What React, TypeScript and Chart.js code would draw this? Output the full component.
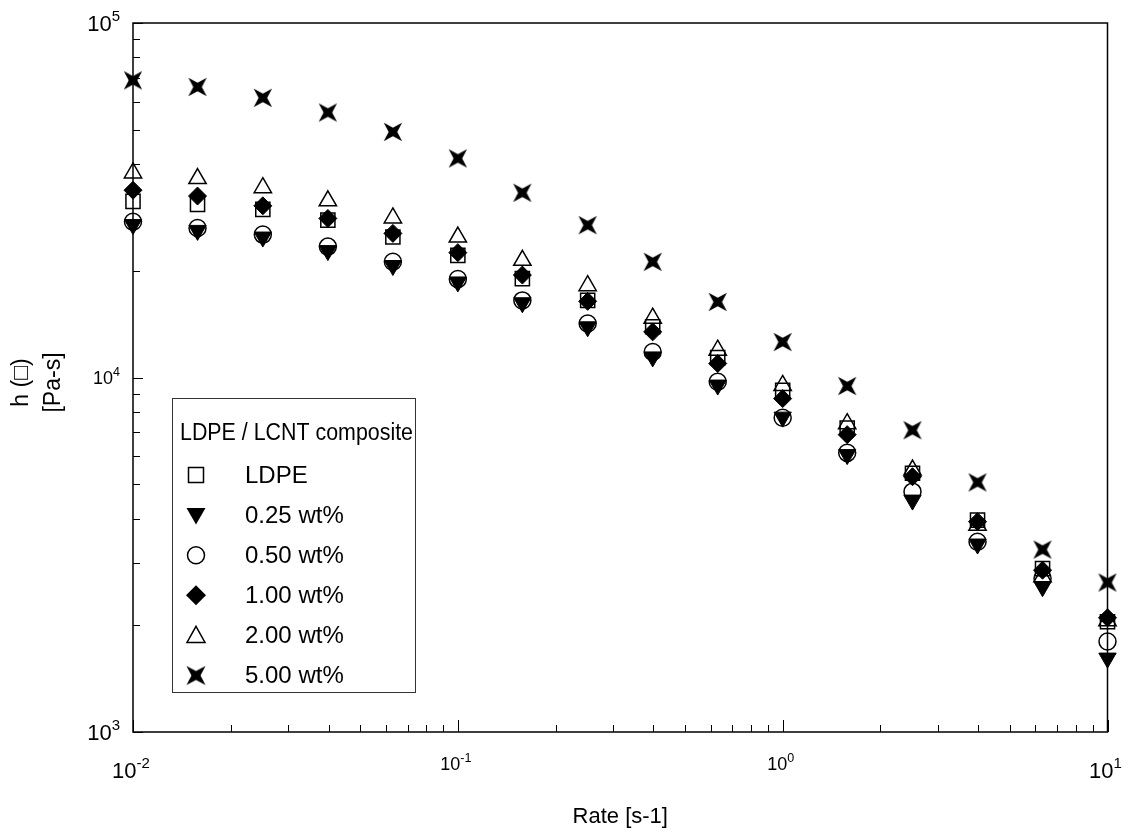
import React, { useEffect, useRef } from 'react';
import { Chart, registerables } from 'chart.js';

Chart.register(...registerables);

// ---------- data ----------
const rates = [0.01, 0.0158, 0.0251, 0.0398, 0.0631, 0.1, 0.158, 0.251, 0.398, 0.631, 1, 1.58, 2.51, 3.98, 6.31, 10];
const ldpe = [31400, 30800, 29800, 27800, 24900, 22100, 19000, 16500, 13900, 11380, 9200, 7200, 5370, 3960, 2890, 2046];
const wt025 = [27000, 26000, 24900, 22800, 20700, 18600, 16250, 13900, 11430, 9520, 7730, 6060, 4510, 3390, 2570, 1616];
const wt050 = [27500, 26400, 25300, 23400, 21200, 18950, 16500, 14200, 11800, 9730, 7700, 6130, 4765, 3440, 2710, 1800];
const wt100 = [33750, 32500, 30500, 28100, 25500, 22500, 19450, 16400, 13450, 10950, 8720, 6900, 5250, 3920, 2860, 2100];
const wt200 = [37750, 36400, 34300, 31500, 28200, 24900, 21400, 18150, 14700, 11940, 9500, 7410, 5480, 3830, 2740, 2060];
const wt500 = [68900, 66000, 61500, 55900, 49300, 41500, 33200, 26900, 21200, 16330, 12590, 9460, 7100, 5060, 3270, 2640];

const seriesLabels = ['LDPE', '0.25 wt%', '0.50 wt%', '1.00 wt%', '2.00 wt%', '5.00 wt%'];
const legendTitle = 'LDPE / LCNT composite';
const xDecadeExponents = [-2, -1, 0, 1];
const yDecadeExponents = [3, 4, 5];
const xTitle = 'Rate [s-1]';
const yTitleLines = ['h (\u25A1)', '[Pa-s]'];

const FONT = '"Liberation Sans", Arial, Helvetica, sans-serif';

function makeStar(size: number, R: number, inner: number): HTMLCanvasElement {
  const c = document.createElement('canvas');
  c.width = size;
  c.height = size;
  const g = c.getContext('2d')!;
  const cx = size / 2;
  const cy = size / 2;
  g.beginPath();
  for (let i = 0; i < 4; i++) {
    const a1 = Math.PI / 4 + i * Math.PI / 2;
    const a2 = a1 + Math.PI / 4;
    const px = cx + Math.cos(a1) * R;
    const py = cy + Math.sin(a1) * R;
    if (i === 0) g.moveTo(px, py); else g.lineTo(px, py);
    g.lineTo(cx + Math.cos(a2) * inner, cy + Math.sin(a2) * inner);
  }
  g.closePath();
  g.fillStyle = '#000';
  g.fill();
  return c;
}

function toPts(ys: number[]) {
  return rates.map((x, i) => ({ x, y: ys[i] }));
}

function drawPow(ctx: CanvasRenderingContext2D, exp: number, big: boolean, anchorX: number, baseY: number, mode: 'center' | 'right') {
  const bf = big ? 22 : 18;
  const ef = big ? 15 : 12.5;
  const raise = big ? 10 : 8.3;
  ctx.font = `${bf}px ${FONT}`;
  const w1 = ctx.measureText('10').width;
  ctx.font = `${ef}px ${FONT}`;
  const es = String(exp);
  const w2 = ctx.measureText(es).width;
  const total = w1 + w2;
  const start = mode === 'center' ? anchorX - total / 2 : anchorX - total;
  ctx.textAlign = 'left';
  ctx.textBaseline = 'alphabetic';
  ctx.font = `${bf}px ${FONT}`;
  ctx.fillText('10', start, baseY);
  ctx.font = `${ef}px ${FONT}`;
  ctx.fillText(es, start + w1, baseY - raise);
}

const overlayPlugin = {
  id: 'overlay',
  beforeDatasetsDraw(chart: any) {
    const { ctx, chartArea: a, scales } = chart;
    const x = scales.x;
    const y = scales.y;
    ctx.save();
    ctx.strokeStyle = '#000';
    ctx.lineWidth = 1.5;
    ctx.strokeRect(a.left, a.top, a.right - a.left, a.bottom - a.top);
    ctx.lineWidth = 1;
    xDecadeExponents.forEach((e) => {
      for (let m = 1; m <= 9; m++) {
        const v = m * Math.pow(10, e);
        if (v > x.max * 1.0001) break;
        const px = Math.round(x.getPixelForValue(v)) + 0.5;
        const len = m === 1 ? 12 : 7;
        ctx.beginPath();
        ctx.moveTo(px, a.bottom);
        ctx.lineTo(px, a.bottom - len);
        ctx.stroke();
      }
    });
    yDecadeExponents.forEach((e) => {
      for (let m = 1; m <= 9; m++) {
        const v = m * Math.pow(10, e);
        if (v > y.max * 1.0001) break;
        const py = Math.round(y.getPixelForValue(v)) + 0.5;
        const len = m === 1 ? 10 : 7;
        ctx.beginPath();
        ctx.moveTo(a.left, py);
        ctx.lineTo(a.left + len, py);
        ctx.stroke();
      }
    });
    ctx.restore();
  },
  afterDraw(chart: any) {
    const { ctx, chartArea: a, scales } = chart;
    const x = scales.x;
    const y = scales.y;
    ctx.save();
    ctx.fillStyle = '#000';
    xDecadeExponents.forEach((e, i) => {
      const big = i === 0 || i === xDecadeExponents.length - 1;
      const px = x.getPixelForValue(Math.pow(10, e));
      drawPow(ctx, e, big, px - 2, big ? 778 : 770, 'center');
    });
    yDecadeExponents.forEach((e, i) => {
      const big = i === 0 || i === yDecadeExponents.length - 1;
      const py = y.getPixelForValue(Math.pow(10, e));
      drawPow(ctx, e, big, 120, py + (big ? 8 : 6.5), 'right');
    });
    // x title
    ctx.font = `22px ${FONT}`;
    ctx.textAlign = 'center';
    ctx.textBaseline = 'alphabetic';
    ctx.fillText(xTitle, (a.left + a.right) / 2, 823);
    // y title (rotated)
    const yc = 382.5;
    [22, 54].forEach((cx, i) => {
      ctx.save();
      ctx.translate(cx, yc);
      ctx.rotate(-Math.PI / 2);
      ctx.font = `23px ${FONT}`;
      ctx.textAlign = 'center';
      ctx.textBaseline = 'middle';
      ctx.fillText(yTitleLines[i], 0, 0);
      ctx.restore();
    });
    // legend
    ctx.strokeStyle = '#333';
    ctx.lineWidth = 1;
    ctx.strokeRect(172.5, 398.5, 243, 294);
    ctx.textAlign = 'left';
    ctx.textBaseline = 'middle';
    ctx.font = `23px ${FONT}`;
    const tw = ctx.measureText(legendTitle).width;
    const sx = Math.min(1, 233 / tw);
    ctx.save();
    ctx.translate(180, 434);
    ctx.scale(sx, 1);
    ctx.fillText(legendTitle, 0, 0);
    ctx.restore();
    ctx.font = `24px ${FONT}`;
    const mx = 196;
    const tx = 245;
    seriesLabels.forEach((lab, i) => {
      const cy = 475 + i * 40.1;
      ctx.fillStyle = '#000';
      ctx.strokeStyle = '#000';
      ctx.lineWidth = 1.5;
      ctx.beginPath();
      if (i === 0) {
        ctx.strokeRect(mx - 7.5, cy - 7.5, 15, 15);
      } else if (i === 1) {
        ctx.moveTo(mx - 9.5, cy - 7);
        ctx.lineTo(mx + 9.5, cy - 7);
        ctx.lineTo(mx, cy + 9.5);
        ctx.closePath();
        ctx.fill();
      } else if (i === 2) {
        ctx.arc(mx, cy, 8.5, 0, Math.PI * 2);
        ctx.stroke();
      } else if (i === 3) {
        ctx.moveTo(mx - 10, cy);
        ctx.lineTo(mx, cy - 10);
        ctx.lineTo(mx + 10, cy);
        ctx.lineTo(mx, cy + 10);
        ctx.closePath();
        ctx.fill();
      } else if (i === 4) {
        ctx.moveTo(mx, cy - 9);
        ctx.lineTo(mx + 9, cy + 7);
        ctx.lineTo(mx - 9, cy + 7);
        ctx.closePath();
        ctx.stroke();
      } else {
        ctx.drawImage(legendStar, mx - legendStar.width / 2, cy - legendStar.height / 2);
      }
      ctx.fillStyle = '#000';
      ctx.fillText(lab, tx, cy + 1);
    });
    ctx.restore();
  },
};

let legendStar: HTMLCanvasElement;

export default function App() {
  const ref = useRef<HTMLCanvasElement | null>(null);
  useEffect(() => {
    if (!ref.current) return;
    const star = makeStar(28, 13, 4.3);
    legendStar = makeStar(28, 13.5, 4.5);
    const open = 'rgba(0,0,0,0)';
    const chart = new Chart(ref.current, {
      type: 'scatter',
      data: {
        datasets: [
          { label: seriesLabels[0], data: toPts(ldpe), pointStyle: 'rect', pointRadius: 10, backgroundColor: open, borderColor: '#000', borderWidth: 1.5 },
          { label: seriesLabels[1], data: toPts(wt025), pointStyle: 'triangle', rotation: 180, pointRadius: 10, backgroundColor: '#000', borderColor: '#000', borderWidth: 1 },
          { label: seriesLabels[2], data: toPts(wt050), pointStyle: 'circle', pointRadius: 8.5, backgroundColor: open, borderColor: '#000', borderWidth: 1.5 },
          { label: seriesLabels[3], data: toPts(wt100), pointStyle: 'rectRot', pointRadius: 9, backgroundColor: '#000', borderColor: '#000', borderWidth: 1 },
          { label: seriesLabels[4], data: toPts(wt200), pointStyle: 'triangle', pointRadius: 10, backgroundColor: open, borderColor: '#000', borderWidth: 1.5 },
          { label: seriesLabels[5], data: toPts(wt500), pointStyle: star as any, pointRadius: 12, backgroundColor: '#000', borderColor: '#000', borderWidth: 0 },
        ] as any,
      },
      options: {
        animation: false,
        responsive: false,
        devicePixelRatio: 1,
        events: [],
        clip: false as any,
        layout: { padding: { left: 133, top: 23, right: 24.5, bottom: 102 } },
        scales: {
          x: { type: 'logarithmic', min: 0.01, max: 10, display: false },
          y: { type: 'logarithmic', min: 1000, max: 100000, display: false },
        },
        plugins: { legend: { display: false }, tooltip: { enabled: false } },
      },
      plugins: [overlayPlugin],
    });
    return () => chart.destroy();
  }, []);
  return (
    <div style={{ position: 'absolute', left: 0, top: 0, width: 1132, height: 834, background: '#fff' }}>
      <canvas ref={ref} width={1132} height={834} />
    </div>
  );
}
